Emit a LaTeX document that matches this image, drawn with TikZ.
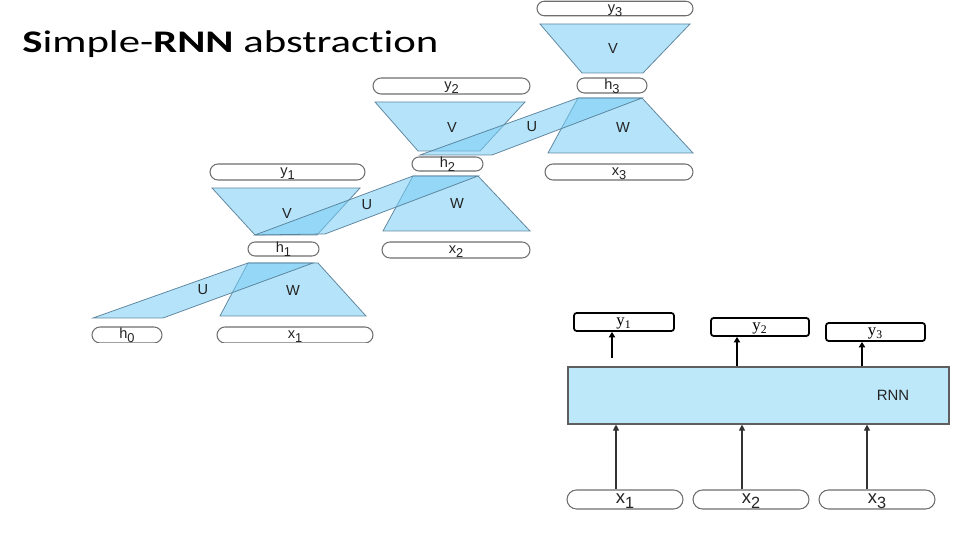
\documentclass[tikz,border=0pt]{standalone}
\usepackage{graphicx}
\usepackage{fontspec}
\setmainfont{Liberation Sans}
\newfontfamily\titlefont[Ligatures=NoCommon]{Carlito}
\newfontfamily\serfont{Liberation Serif}
\usetikzlibrary{shapes.misc,arrows.meta}
\definecolor{trapblue}{RGB}{120,205,245}
\definecolor{edgeblue}{RGB}{85,125,150}
\definecolor{pillgray}{RGB}{110,110,110}
\definecolor{rnnblue}{RGB}{188,232,250}
\definecolor{rnnedge}{RGB}{95,95,95}
\definecolor{txtgray}{RGB}{35,35,35}
\newcommand\lsub[2]{#1\raisebox{-0.5ex}{\scalebox{0.88}{#2}}}
\begin{document}
\begin{tikzpicture}[x=0.02cm,y=-0.02cm,
  pill/.style={rounded rectangle, draw=pillgray, line width=0.6pt, fill=white, inner sep=0pt,
    text=txtgray, font=\fontsize{8.3}{9}\selectfont, text height=0.55em, text depth=0.1em},
  bigpill/.style={pill, font=\fontsize{10.5}{12}\selectfont, minimum width=2.32cm, minimum height=0.38cm},
  trap/.style={fill=trapblue, fill opacity=0.55, draw=edgeblue, draw opacity=0.9, line width=0.45pt},
  lbl/.style={text=txtgray, font=\fontsize{8.3}{9}\selectfont, inner sep=0pt},
  ybox/.style={draw=black, line width=1pt, rounded corners=1.5pt, fill=white, inner sep=0pt,
    minimum height=0.36cm, text height=0.6em, text depth=0.15em, font=\serfont\fontsize{9.5}{10}\selectfont},
  toparrow/.style={line width=1pt, draw=black, -{Triangle[length=3.2pt,width=3.6pt]}},
  botarrow/.style={line width=0.6pt, draw=black!80, -{Triangle[length=3.4pt,width=3.4pt]}}
]
\useasboundingbox (0,0) rectangle (960,540);

% title
\node[anchor=base west, inner sep=0pt] (title) at (22,53)
  {\scalebox{1.36}[1]{\titlefont\fontsize{17.9}{21}\selectfont\textbf{S}imple-\textbf{RNN} abstraction}};

% ---------- unrolled network (cropped at the bottom) ----------
\begin{scope}
\clip (0,0) rectangle (710,342.5);

% pills
\node[pill, minimum width=3.1cm,  minimum height=0.32cm] (y1) at (287.5,172) {\lsub{y}{1}};
\node[pill, minimum width=1.42cm, minimum height=0.28cm] (h1) at (283.5,249) {\lsub{h}{1}};
\node[pill, minimum width=3.12cm, minimum height=0.32cm] (x1) at (295,335) {\lsub{x}{1}};
\node[pill, minimum width=1.4cm,  minimum height=0.32cm] (h0) at (127,335) {\lsub{h}{0}};

\node[pill, minimum width=3.14cm, minimum height=0.32cm] (y2) at (451.5,86) {\lsub{y}{2}};
\node[pill, minimum width=1.42cm, minimum height=0.28cm] (h2) at (447.5,164) {\lsub{h}{2}};
\node[pill, minimum width=2.96cm, minimum height=0.32cm] (x2) at (456,250) {\lsub{x}{2}};

\node[pill, minimum width=3.12cm, minimum height=0.29cm] (y3) at (615,8.5) {\lsub{y}{3}};
\node[pill, minimum width=1.4cm,  minimum height=0.3cm]  (h3) at (612,85.5) {\lsub{h}{3}};
\node[pill, minimum width=2.96cm, minimum height=0.32cm] (x3) at (619,172) {\lsub{x}{3}};

% unit 1
\draw[trap] (212,188) -- (360,188) -- (317,235) -- (255,235) -- cycle;
\draw[trap] (248,263) -- (318,263) -- (366,316) -- (220,316) -- cycle;
\draw[trap] (93,318) -- (248,263) -- (313,263) -- (163,318) -- cycle;
% unit 2
\draw[trap] (375,102) -- (525,102) -- (480,151) -- (418,151) -- cycle;
\draw[trap] (413,176) -- (478,176) -- (530,231) -- (383,231) -- cycle;
\draw[trap] (255,235) -- (413,176) -- (478,176) -- (325,234) -- cycle;
% unit 3
\draw[trap] (540,24) -- (690,24) -- (643,73) -- (582,73) -- cycle;
\draw[trap] (578,98) -- (642,98) -- (693,153) -- (548,153) -- cycle;
\draw[trap] (420,155) -- (578,98) -- (642,98) -- (492,155) -- cycle;

% weight labels
\node[lbl] (u1) at (203,290) {U};
\node[lbl] (v1) at (287,213) {V};
\node[lbl] (w1) at (293,290) {W};
\node[lbl] (u2) at (367,205) {U};
\node[lbl] (v2) at (452,127) {V};
\node[lbl] (w2) at (457,203) {W};
\node[lbl] (u3) at (532,127) {U};
\node[lbl] (v3) at (613,48) {V};
\node[lbl] (w3) at (623,127) {W};
\end{scope}

% ---------- abstract RNN ----------
\node[draw=rnnedge, fill=rnnblue, line width=0.9pt, inner sep=0pt, anchor=north west,
      minimum width=7.62cm, minimum height=1.14cm] (rnn) at (567,366) {};
\node[lbl, font=\fontsize{8.5}{10}\selectfont] (rnnlbl) at (893,395) {RNN};

\node[ybox, minimum width=2cm]    (ya) at (624,322)   {y\textsubscript{1}};
\node[ybox, minimum width=1.96cm] (yb) at (760,327)   {y\textsubscript{2}};
\node[ybox, minimum width=1.98cm] (yc) at (875.5,332) {y\textsubscript{3}};

\node[bigpill] (xa) at (625,499.5) {\lsub{x}{1}};
\node[bigpill] (xb) at (751,499.5) {\lsub{x}{2}};
\node[bigpill] (xc) at (877,499.5) {\lsub{x}{3}};

\coordinate (ta) at (612,358);
\coordinate (tb) at (737,366);
\coordinate (tc) at (862,366);
\draw[toparrow] (ta) -- (ta |- ya.south);
\draw[toparrow] (tb |- rnn.north) -- (tb |- yb.south);
\draw[toparrow] (tc |- rnn.north) -- (tc |- yc.south);

\coordinate (ba) at (616,0);
\coordinate (bb) at (742,0);
\coordinate (bc) at (867,0);
\draw[botarrow] (ba |- xa.north) -- (ba |- rnn.south);
\draw[botarrow] (bb |- xb.north) -- (bb |- rnn.south);
\draw[botarrow] (bc |- xc.north) -- (bc |- rnn.south);
\end{tikzpicture}
\end{document}
